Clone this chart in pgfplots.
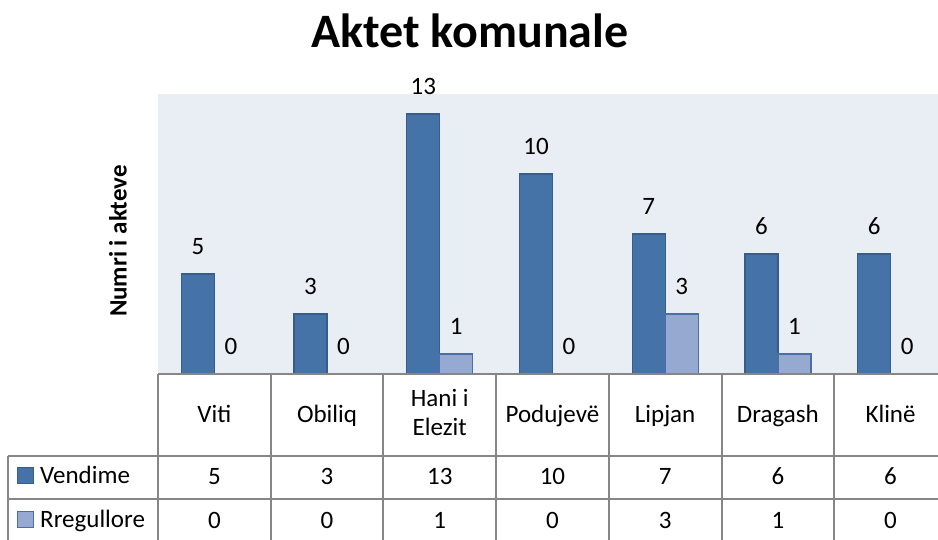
\documentclass[border=0pt]{standalone}
\usepackage{pgfplots}
\pgfplotsset{compat=1.18}
\usepackage{pgfplotstable}
\usepackage{fontspec}
\setmainfont{Carlito}
\definecolor{darkbar}{RGB}{69,114,167}
\definecolor{darkedge}{RGB}{56,93,138}
\definecolor{lightbar}{RGB}{149,169,209}
\definecolor{lightedge}{RGB}{76,110,165}
\definecolor{plotbg}{RGB}{233,237,244}
\definecolor{gridc}{RGB}{134,134,134}
\newcommand\fs{\fontsize{25}{29}\selectfont}

\pgfplotstableread{
x vendime rregullore
0 5 0
1 3 0
2 13 1
3 10 0
4 7 3
5 6 1
6 6 0
}\data

\begin{document}
\begin{tikzpicture}[x=1pt,y=1pt]
\useasboundingbox (0,0) rectangle (938,540);
\begin{scope}
\clip (0,0) rectangle (938,540);
\begin{axis}[
 at={(158pt,166pt)}, anchor=south west,
 scale only axis, width=789pt, height=280pt,
 xmin=-0.5, xmax=6.5, ymin=0, ymax=14,
 axis line style={draw=none},
 axis background/.style={fill=plotbg},
 ticks=none,
 ybar=0pt, bar width=33pt,
 /pgf/number format/assume math mode=true,
 nodes near coords,
 every node near coord/.append style={font=\fs, inner sep=0pt, yshift=19pt, anchor=south, text=black},
 clip=false,
]
\addplot[fill=darkbar, draw=darkedge, line width=1.2pt] table[x=x,y=vendime]{\data};
\addplot[fill=lightbar, draw=lightedge, line width=1.2pt] table[x=x,y=rregullore]{\data};
\end{axis}
% data table grid
\begin{scope}[draw=gridc, line width=2pt]
\draw (158,166) -- (950,166);
\draw (8,84) -- (950,84);
\draw (8,41) -- (950,41);
\draw (8,84) -- (8,-2);
\foreach \k in {0,...,7} {\draw (158+\k*112.7,166) -- (158+\k*112.7,-2);}
\end{scope}
% category names
\foreach \k/\n in {0/Viti,1/Obiliq,3/Podujevë,4/Lipjan,5/Dragash,6/Klinë}
 {\node[font=\fs, anchor=base, inner sep=0pt] at (158+\k*112.7+56.35,117) {\n};}
\node[font=\fs, anchor=base, inner sep=0pt] at (158+2*112.7+56.35,133) {Hani i};
\node[font=\fs, anchor=base, inner sep=0pt] at (158+2*112.7+56.35,104) {Elezit};
% table values
\foreach \k/\v/\r in {0/5/0,1/3/0,2/13/1,3/10/0,4/7/3,5/6/1,6/6/0}
 {\node[font=\fs, anchor=base, inner sep=0pt] at (158+\k*112.7+56.35,55) {\v};
  \node[font=\fs, anchor=base, inner sep=0pt] at (158+\k*112.7+56.35,11) {\r};}
% row headers
\filldraw[fill=darkbar, draw=darkedge, line width=1pt] (17,56) rectangle (33,72);
\node[font=\fs, anchor=base west, inner sep=0pt] at (40,56) {Vendime};
\filldraw[fill=lightbar, draw=lightedge, line width=1pt] (17,12) rectangle (33,28);
\node[font=\fs, anchor=base west, inner sep=0pt] at (40,12) {Rregullore};
% title and y label
\node[font=\fontsize{48}{56}\selectfont\bfseries, anchor=base, inner sep=0pt] at (470,492) {Aktet komunale};
\node[font=\fs\bfseries, rotate=90, inner sep=0pt] at (118,299) {Numri i akteve};
\end{scope}
\end{tikzpicture}
\end{document}
